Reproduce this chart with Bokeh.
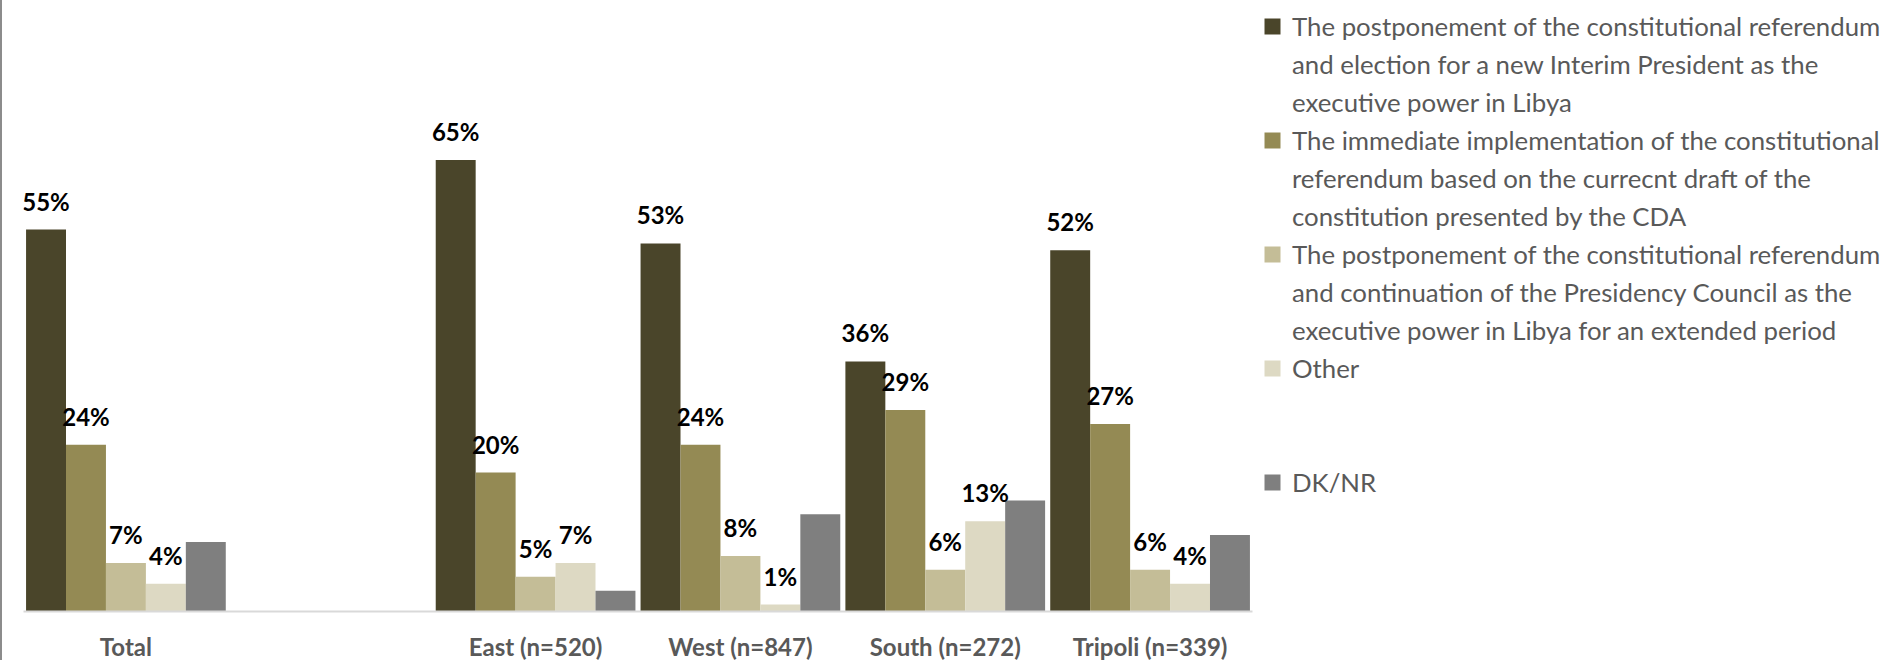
from bokeh.plotting import figure
from bokeh.models import ColumnDataSource, FactorRange, Range1d, LabelSet, Legend, LegendItem
from bokeh.transform import dodge
from bokeh.core.properties import value
from bokeh.embed import file_html
from bokeh.resources import INLINE

# ---- data ----
regions = ["Total", "East (n=520)", "West (n=847)", "South (n=272)", "Tripoli (n=339)"]
axis_factors = ["Total", " ", "East (n=520)", "West (n=847)", "South (n=272)", "Tripoli (n=339)"]

series_label_lines = [
    ["The postponement of the constitutional referendum",
     "and election for a new Interim President as the",
     "executive power in Libya"],
    ["The immediate implementation of the constitutional",
     "referendum based on the currecnt draft of the",
     "constitution presented by the CDA"],
    ["The postponement of the constitutional referendum",
     "and continuation of the Presidency Council as the",
     "executive power in Libya for an extended period"],
    ["Other", " ", " "],
    ["DK/NR"],
]
postpone_new_president = [55, 65, 53, 36, 52]
immediate_referendum = [24, 20, 24, 29, 27]
postpone_presidency_council = [7, 5, 8, 6, 6]
other = [4, 7, 1, 13, 4]
dk_nr = [10, 3, 14, 16, 11]
show_labels = [True, True, True, True, False]

colors = ["#4A452A", "#948A54", "#C4BD97", "#DDD9C3", "#7F7F7F"]
series_values = [postpone_new_president, immediate_referendum,
                 postpone_presidency_council, other, dk_nr]

FONT = "Lato"
bar_w = 0.195
offsets = [-2 * bar_w, -bar_w, 0.0, bar_w, 2 * bar_w]

p = figure(
    x_range=FactorRange(factors=axis_factors, range_padding=0),
    y_range=Range1d(0, 87.98),
    frame_width=1229, frame_height=611,
    min_border_left=21, min_border_top=0, min_border_right=0, min_border_bottom=0,
    output_backend="svg", toolbar_location=None,
)
p.styles = {"border-left": "2px solid #8C8C8C"}
p.outline_line_color = None
p.xgrid.grid_line_color = None
p.ygrid.grid_line_color = None
p.yaxis.visible = False
p.background_fill_color = "white"
p.border_fill_color = "white"

xa = p.xaxis[0]
xa.axis_line_color = "#D9D9D9"
xa.axis_line_width = 2
xa.major_tick_line_color = None
xa.minor_tick_line_color = None
xa.major_label_text_font = FONT
xa.major_label_text_font_style = "bold"
xa.major_label_text_font_size = "24px"
xa.major_label_text_color = "#595959"
xa.major_label_standoff = 14

items = []
for vals, col, off, lines, show in zip(series_values, colors, offsets, series_label_lines, show_labels):
    src = ColumnDataSource(dict(region=regions, value=vals, text=[f"{v}%" for v in vals]))
    r = p.vbar(x=dodge("region", off, range=p.x_range), top="value", width=bar_w,
               source=src, fill_color=col, line_color=None)
    items.append(LegendItem(label=value(lines[0]), renderers=[r]))
    for extra in lines[1:]:
        items.append(LegendItem(label=value(extra), renderers=[]))
    if show:
        p.add_layout(LabelSet(x=dodge("region", off, range=p.x_range), y="value", text="text",
                              source=src, text_align="center", text_baseline="alphabetic",
                              y_offset=19, text_font=value(FONT), text_font_style="bold",
                              text_font_size="24px", text_color="black"))

legend = Legend(items=items, location="top_left", orientation="vertical",
                glyph_width=20, glyph_height=20, label_standoff=10, spacing=6,
                label_height=32, padding=0, margin=10,
                border_line_color=None, background_fill_alpha=0,
                label_text_font=FONT, label_text_font_size="25.8px",
                label_text_color="#595959")
p.add_layout(legend, "right")

open("out.html", "w").write(file_html(p, INLINE))
